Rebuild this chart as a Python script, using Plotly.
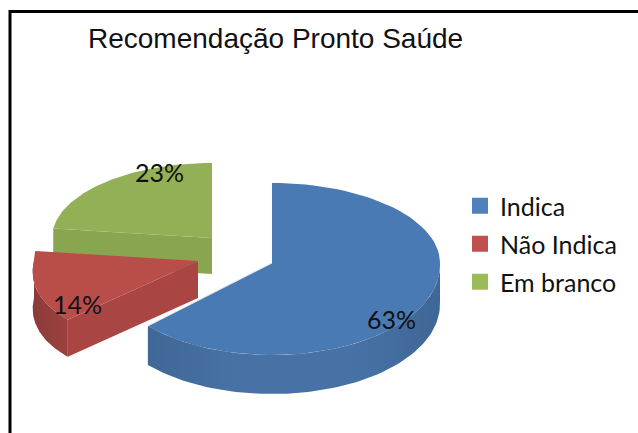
import numpy as np
import plotly.graph_objects as go

# Data
categories = ["Indica", "Não Indica", "Em branco"]
shares = [63, 14, 23]
percent_labels = ["63%", "14%", "23%"]
title_text = "Recomendação Pronto Saúde"

# Style
top_colors = ["#4a7ab3", "#b84d4a", "#94b056"]
legend_colors = ["#4f81bd", "#c0504d", "#9bbb59"]
wall_colors = ["#456f9f", "#a94644", "#8aa54f"]
rim_scales = [
    [[0, "#3f6896"], [0.3, "#4871a5"], [0.7, "#4872a6"], [1, "#3e6796"]],
    [[0, "#8c3b39"], [1, "#9c413f"]],
    [[0, "#8aa54f"], [1, "#8aa54f"]],
]
# Projection of each exploded wedge: apex x/y, radius x, back and front radius y, front widening, depth
proj = [
    dict(cx=272, cy=263, rx=168, rb=80, rf=92, f=0.02, d=39),
    dict(cx=198, cy=261, rx=164, rb=80, rf=86, f=0.13, d=37),
    dict(cx=212, cy=238, rx=160, rb=75, rf=75, f=0.0, d=36),
]
label_pos = [(391, 319), (77, 304), (159, 172)]


def rim(t0, t1, p, n=80):
    t = np.radians(np.linspace(t0, t1, n))
    s, c = np.sin(t), np.cos(t)
    x = p["cx"] + p["rx"] * s * (1 + p["f"] * np.where(c < 0, -c, 0))
    y = p["cy"] - np.where(c > 0, p["rb"], p["rf"]) * c
    return x, y


edges = np.concatenate([[0], np.cumsum(shares)]) * 3.6
fig = go.Figure()


def poly(x, y, color=None, scale=None):
    kw = dict(fillcolor=color) if color else dict(
        fillgradient=dict(type="horizontal", colorscale=scale))
    fig.add_trace(go.Scatter(x=list(x), y=list(y), mode="lines", fill="toself",
                             line=dict(width=0), showlegend=False, hoverinfo="skip", **kw))


for i in [2, 1, 0]:
    p = proj[i]
    t0, t1 = edges[i], edges[i + 1]
    # side wall running from the apex to the front corner of the wedge
    cx_, cy_ = rim(t0, t0, p, 1)
    if i > 0:
        poly([p["cx"], cx_[0], cx_[0], p["cx"]],
             [p["cy"], cy_[0], cy_[0] + p["d"], p["cy"] + p["d"]], color=wall_colors[i])
    # outer rim, front half only
    a, b = max(t0, 90), min(t1, 270)
    if b > a:
        rx_, ry_ = rim(a, b, p)
        poly(np.r_[rx_, rx_[::-1]], np.r_[ry_, ry_[::-1] + p["d"]], scale=rim_scales[i])
    # top face
    ax_, ay_ = rim(t0, t1, p)
    poly(np.r_[p["cx"], ax_, p["cx"]], np.r_[p["cy"], ay_, p["cy"]], color=top_colors[i])

# pale seam where the large wedge overlaps the small one
bx_, by_ = rim(edges[1], edges[1], proj[0], 1)
fig.add_trace(go.Scatter(x=[proj[0]["cx"], bx_[0]], y=[proj[0]["cy"], by_[0]], mode="lines",
                         line=dict(color="#dfe6ee", width=1), showlegend=False, hoverinfo="skip"))

# legend
for i, name in enumerate(categories):
    fig.add_trace(go.Scatter(x=[None], y=[None], mode="markers", name=name,
                             legendgroup=name,
                             marker=dict(symbol="square", size=17, color=legend_colors[i])))

for lab, (lx, ly) in zip(percent_labels, label_pos):
    fig.add_annotation(x=lx, y=ly, text=lab, showarrow=False,
                       font=dict(family="Lato", size=25, color="#111111"))

fig.update_layout(
    width=638, height=433, autosize=False,
    margin=dict(l=0, r=0, t=0, b=0),
    paper_bgcolor="white", plot_bgcolor="white",
    title=dict(text=title_text, x=88 / 638, xanchor="left", y=1 - 38 / 433, yanchor="middle",
               font=dict(family="Liberation Sans", size=28, color="#111111")),
    xaxis=dict(range=[0, 638], visible=False, fixedrange=True),
    yaxis=dict(range=[433, 0], visible=False, fixedrange=True),
    legend=dict(x=460 / 638, y=1 - 183 / 433, xanchor="left", yanchor="top",
                font=dict(family="Lato", size=25, color="#111111"),
                tracegroupgap=2.5, itemwidth=30, bgcolor="rgba(0,0,0,0)"),
    shapes=[dict(type="path", xref="x", yref="y", path="M 10 433 L 10 11.5 L 638 11.5",
                 line=dict(color="black", width=3))],
)
fig.write_html("out.html", config={"displayModeBar": False},
               post_script="document.body.style.margin='0';document.body.style.overflow='hidden';")
